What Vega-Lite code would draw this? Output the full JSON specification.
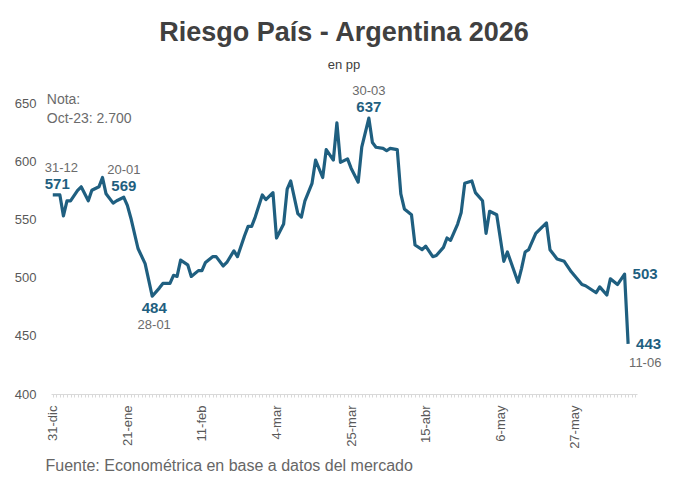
{
  "$schema": "https://vega.github.io/schema/vega-lite/v6.json",
  "autosize": {"type": "none"},
  "padding": {"left": 51, "top": 103, "right": 43, "bottom": 88},
  "width": 586,
  "height": 291,
  "background": "#ffffff",
  "title": {
    "text": "Riesgo País - Argentina 2026",
    "subtitle": "en pp",
    "anchor": "middle",
    "frame": "group",
    "font": "Liberation Sans",
    "fontSize": 27,
    "fontWeight": "bold",
    "color": "#404040",
    "subtitleFont": "Liberation Sans",
    "subtitleFontSize": 13,
    "subtitleColor": "#404040",
    "subtitlePadding": 12,
    "offset": 12
  },
  "datasets": {
    "riesgo": [
      {"date": "2025-12-31", "value": 571},
      {"date": "2026-01-02", "value": 571},
      {"date": "2026-01-03", "value": 553},
      {"date": "2026-01-04", "value": 566},
      {"date": "2026-01-05", "value": 566},
      {"date": "2026-01-07", "value": 575},
      {"date": "2026-01-08", "value": 578},
      {"date": "2026-01-10", "value": 566},
      {"date": "2026-01-11", "value": 575},
      {"date": "2026-01-13", "value": 578},
      {"date": "2026-01-14", "value": 586},
      {"date": "2026-01-15", "value": 572},
      {"date": "2026-01-17", "value": 564},
      {"date": "2026-01-18", "value": 566},
      {"date": "2026-01-20", "value": 569},
      {"date": "2026-01-21", "value": 562},
      {"date": "2026-01-22", "value": 551},
      {"date": "2026-01-24", "value": 525},
      {"date": "2026-01-26", "value": 512},
      {"date": "2026-01-27", "value": 498},
      {"date": "2026-01-28", "value": 484},
      {"date": "2026-01-30", "value": 491},
      {"date": "2026-01-31", "value": 495},
      {"date": "2026-02-02", "value": 495},
      {"date": "2026-02-03", "value": 502},
      {"date": "2026-02-04", "value": 501},
      {"date": "2026-02-05", "value": 515},
      {"date": "2026-02-07", "value": 511},
      {"date": "2026-02-08", "value": 501},
      {"date": "2026-02-10", "value": 506},
      {"date": "2026-02-11", "value": 506},
      {"date": "2026-02-12", "value": 513},
      {"date": "2026-02-14", "value": 518},
      {"date": "2026-02-15", "value": 518},
      {"date": "2026-02-17", "value": 510},
      {"date": "2026-02-18", "value": 513},
      {"date": "2026-02-20", "value": 523},
      {"date": "2026-02-21", "value": 518},
      {"date": "2026-02-23", "value": 536},
      {"date": "2026-02-24", "value": 544},
      {"date": "2026-02-25", "value": 544},
      {"date": "2026-02-26", "value": 552},
      {"date": "2026-02-28", "value": 571},
      {"date": "2026-03-01", "value": 567},
      {"date": "2026-03-03", "value": 573},
      {"date": "2026-03-04", "value": 534},
      {"date": "2026-03-06", "value": 546},
      {"date": "2026-03-07", "value": 576},
      {"date": "2026-03-08", "value": 583},
      {"date": "2026-03-10", "value": 555},
      {"date": "2026-03-11", "value": 552},
      {"date": "2026-03-12", "value": 566},
      {"date": "2026-03-14", "value": 581},
      {"date": "2026-03-15", "value": 601},
      {"date": "2026-03-17", "value": 586},
      {"date": "2026-03-18", "value": 610},
      {"date": "2026-03-20", "value": 601},
      {"date": "2026-03-21", "value": 633},
      {"date": "2026-03-22", "value": 599},
      {"date": "2026-03-24", "value": 602},
      {"date": "2026-03-25", "value": 594},
      {"date": "2026-03-27", "value": 582},
      {"date": "2026-03-28", "value": 612},
      {"date": "2026-03-30", "value": 637},
      {"date": "2026-03-31", "value": 616},
      {"date": "2026-04-01", "value": 612},
      {"date": "2026-04-03", "value": 611},
      {"date": "2026-04-04", "value": 609},
      {"date": "2026-04-05", "value": 611},
      {"date": "2026-04-07", "value": 610},
      {"date": "2026-04-08", "value": 572},
      {"date": "2026-04-09", "value": 559},
      {"date": "2026-04-11", "value": 554},
      {"date": "2026-04-12", "value": 528},
      {"date": "2026-04-14", "value": 524},
      {"date": "2026-04-15", "value": 527},
      {"date": "2026-04-17", "value": 518},
      {"date": "2026-04-18", "value": 519},
      {"date": "2026-04-20", "value": 526},
      {"date": "2026-04-21", "value": 534},
      {"date": "2026-04-22", "value": 532},
      {"date": "2026-04-24", "value": 546},
      {"date": "2026-04-25", "value": 556},
      {"date": "2026-04-26", "value": 581},
      {"date": "2026-04-28", "value": 583},
      {"date": "2026-04-29", "value": 573},
      {"date": "2026-05-01", "value": 566},
      {"date": "2026-05-02", "value": 538},
      {"date": "2026-05-03", "value": 557},
      {"date": "2026-05-05", "value": 554},
      {"date": "2026-05-07", "value": 514},
      {"date": "2026-05-08", "value": 522},
      {"date": "2026-05-11", "value": 496},
      {"date": "2026-05-12", "value": 508},
      {"date": "2026-05-13", "value": 522},
      {"date": "2026-05-14", "value": 524},
      {"date": "2026-05-16", "value": 538},
      {"date": "2026-05-19", "value": 547},
      {"date": "2026-05-20", "value": 524},
      {"date": "2026-05-22", "value": 516},
      {"date": "2026-05-24", "value": 514},
      {"date": "2026-05-26", "value": 505},
      {"date": "2026-05-29", "value": 494},
      {"date": "2026-05-30", "value": 493},
      {"date": "2026-06-02", "value": 487},
      {"date": "2026-06-03", "value": 492},
      {"date": "2026-06-05", "value": 485},
      {"date": "2026-06-06", "value": 499},
      {"date": "2026-06-08", "value": 494},
      {"date": "2026-06-10", "value": 503},
      {"date": "2026-06-11", "value": 443}
    ]
  },
  "encoding": {
    "x": {
      "field": "date",
      "type": "temporal",
      "scale": {
        "domain": [
          {"year": 2025, "month": 12, "date": 30, "hours": 12},
          {"year": 2026, "month": 6, "date": 13, "hours": 12}
        ]
      },
      "axis": {
        "title": "Fuente: Econométrica en base a datos del mercado",
        "titleFont": "Liberation Sans",
        "titleFontSize": 16,
        "titleFontWeight": "normal",
        "titleColor": "#666666",
        "titleAnchor": "start",
        "titleAlign": "left",
        "titleBaseline": "alphabetic",
        "titleX": -6,
        "titleY": 76,
        "tickCount": {"interval": "day", "step": 1},
        "labelExpr": "round((datum.value - datetime(2025, 11, 31)) / 86400000) % 21 === 0 ? date(datum.value) + '-' + ['ene','feb','mar','abr','may','jun','jul','ago','sep','oct','nov','dic'][month(datum.value)] : ''",
        "labelAngle": -90,
        "labelAlign": "right",
        "labelBaseline": "middle",
        "labelOverlap": false,
        "labelFlush": false,
        "labelFont": "Liberation Sans",
        "labelFontSize": 13,
        "labelColor": "#595959",
        "labelPadding": 8,
        "tickSize": 3,
        "tickColor": "#d9d9d9",
        "domainColor": "#d9d9d9",
        "grid": false
      }
    },
    "y": {
      "field": "value",
      "type": "quantitative",
      "scale": {"domain": [400, 650], "zero": false, "nice": false},
      "axis": {
        "title": null,
        "values": [400, 450, 500, 550, 600, 650],
        "labelFont": "Liberation Sans",
        "labelFontSize": 13,
        "labelColor": "#595959",
        "labelPadding": 15,
        "ticks": false,
        "domain": false,
        "grid": false
      }
    }
  },
  "layer": [
    {
      "data": {"name": "riesgo", "format": {"parse": {"date": "date:'%Y-%m-%d'"}}},
      "mark": {"type": "line", "color": "#1f5f80", "strokeWidth": 3.2, "strokeJoin": "round", "clip": false}
    },
    {
      "data": {"values": [{"date": "2025-12-31", "value": 650, "text": "Nota:\nOct-23: 2.700"}], "format": {"parse": {"date": "date:'%Y-%m-%d'"}}},
      "mark": {"type": "text", "align": "left", "baseline": "alphabetic", "dx": -6, "dy": 1, "lineBreak": "\n", "lineHeight": 18.7, "font": "Liberation Sans", "fontSize": 14, "color": "#6b6b6b"},
      "encoding": {"text": {"field": "text"}}
    },
    {
      "data": {"values": [{"date": "2025-12-31", "value": 571, "label": "571", "day": "31-12"}], "format": {"parse": {"date": "date:'%Y-%m-%d'"}}},
      "layer": [
        {"mark": {"type": "text", "align": "left", "dx": -8, "dy": -6, "baseline": "alphabetic", "font": "Liberation Sans", "fontSize": 15, "fontWeight": "bold", "color": "#1f5f80"}, "encoding": {"text": {"field": "label"}}},
        {"mark": {"type": "text", "align": "left", "dx": -8, "dy": -23, "baseline": "alphabetic", "font": "Liberation Sans", "fontSize": 13, "color": "#6b6b6b"}, "encoding": {"text": {"field": "day"}}}
      ]
    },
    {
      "data": {"values": [
        {"date": "2026-01-20", "value": 569, "label": "569", "day": "20-01"},
        {"date": "2026-03-30", "value": 637, "label": "637", "day": "30-03"}
      ], "format": {"parse": {"date": "date:'%Y-%m-%d'"}}},
      "layer": [
        {"mark": {"type": "text", "align": "center", "dy": -6, "baseline": "alphabetic", "font": "Liberation Sans", "fontSize": 15, "fontWeight": "bold", "color": "#1f5f80"}, "encoding": {"text": {"field": "label"}}},
        {"mark": {"type": "text", "align": "center", "dy": -23, "baseline": "alphabetic", "font": "Liberation Sans", "fontSize": 13, "color": "#6b6b6b"}, "encoding": {"text": {"field": "day"}}}
      ]
    },
    {
      "data": {"values": [{"date": "2026-01-28", "value": 484, "label": "484", "day": "28-01"}], "format": {"parse": {"date": "date:'%Y-%m-%d'"}}},
      "layer": [
        {"mark": {"type": "text", "align": "center", "dx": 2, "dy": 17, "baseline": "alphabetic", "font": "Liberation Sans", "fontSize": 15, "fontWeight": "bold", "color": "#1f5f80"}, "encoding": {"text": {"field": "label"}}},
        {"mark": {"type": "text", "align": "center", "dx": 2, "dy": 33, "baseline": "alphabetic", "font": "Liberation Sans", "fontSize": 13, "color": "#6b6b6b"}, "encoding": {"text": {"field": "day"}}}
      ]
    },
    {
      "data": {"values": [{"date": "2026-06-10", "value": 503, "label": "503"}], "format": {"parse": {"date": "date:'%Y-%m-%d'"}}},
      "mark": {"type": "text", "align": "left", "dx": 8, "baseline": "middle", "font": "Liberation Sans", "fontSize": 15, "fontWeight": "bold", "color": "#1f5f80"},
      "encoding": {"text": {"field": "label"}}
    },
    {
      "data": {"values": [{"date": "2026-06-11", "value": 443, "label": "443", "day": "11-06"}], "format": {"parse": {"date": "date:'%Y-%m-%d'"}}},
      "layer": [
        {"mark": {"type": "text", "align": "left", "dx": 8, "baseline": "middle", "font": "Liberation Sans", "fontSize": 15, "fontWeight": "bold", "color": "#1f5f80"}, "encoding": {"text": {"field": "label"}}},
        {"mark": {"type": "text", "align": "left", "dx": 1, "dy": 23, "baseline": "alphabetic", "font": "Liberation Sans", "fontSize": 13, "color": "#6b6b6b"}, "encoding": {"text": {"field": "day"}}}
      ]
    }
  ],
  "config": {
    "view": {"stroke": null}
  }
}
